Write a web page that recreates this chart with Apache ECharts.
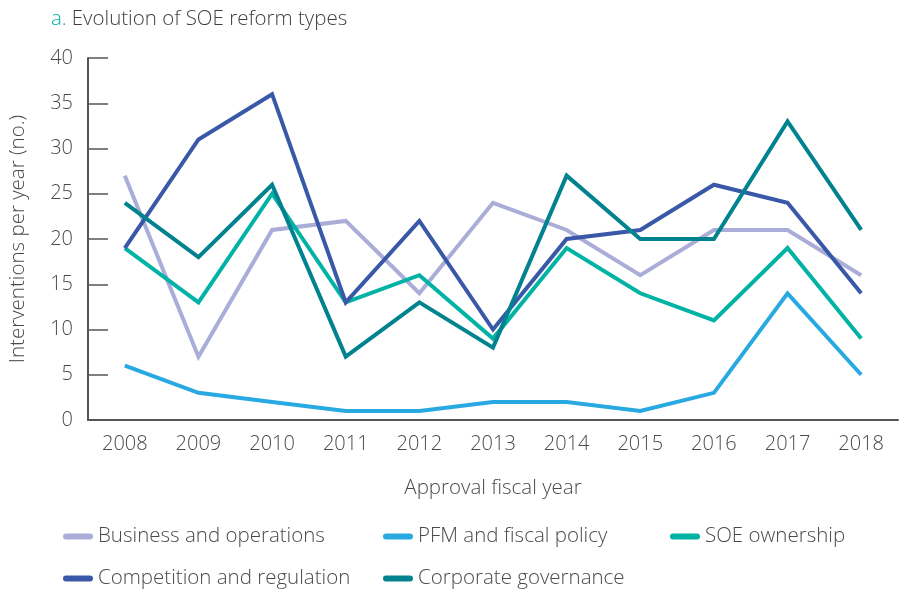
<!DOCTYPE html>
<html lang="en">
<head>
    <meta charset="UTF-8">
    <title>Evolution of SOE reform types</title>
    <script src="https://cdn.jsdelivr.net/npm/echarts@6/dist/echarts.min.js"></script>
    <style>
        body { margin: 0; background: #fff; }
    </style>
</head>
<body>
    <div id="main" style="width:900px;height:596px;"></div>

    <script>
    // data
    var years = ['2008', '2009', '2010', '2011', '2012', '2013', '2014', '2015', '2016', '2017', '2018'];
    var businessOps = [27, 7, 21, 22, 14, 24, 21, 16, 21, 21, 16];
    var pfmFiscal = [6, 3, 2, 1, 1, 2, 2, 1, 3, 14, 5];
    var soeOwnership = [19, 13, 25, 13, 16, 9, 19, 14, 11, 19, 9];
    var competitionReg = [19, 31, 36, 13, 22, 10, 20, 21, 26, 24, 14];
    var corpGovernance = [24, 18, 26, 7, 13, 8, 27, 20, 20, 33, 21];

    var seriesNames = ['Business and operations', 'PFM and fiscal policy', 'SOE ownership',
        'Competition and regulation', 'Corporate governance'];
    var seriesColors = ['#a9add8', '#29a9e1', '#00b3a4', '#3a58a8', '#00838f'];
    var seriesData = [businessOps, pfmFiscal, soeOwnership, competitionReg, corpGovernance];

    var font = '"Open Sans", Lato, sans-serif';
    var textGray = '#4a4a4a';

    function lineSeries(i) {
        return {
            name: seriesNames[i],
            type: 'line',
            data: seriesData[i],
            showSymbol: false,
            symbol: 'none',
            lineStyle: { width: 4, color: seriesColors[i], join: 'miter' },
            itemStyle: { color: seriesColors[i] },
            emphasis: { disabled: true }
        };
    }

    function legendCol(left, names) {
        return {
            orient: 'vertical',
            left: left,
            top: 521,
            data: names,
            icon: 'path://M3,0 L27,0 A3,3 0 0 1 27,6 L3,6 A3,3 0 0 1 3,0 Z',
            itemWidth: 30,
            itemHeight: 6,
            itemGap: 21,
            textStyle: { fontFamily: font, fontWeight: 300, fontSize: 20.5, color: textGray, lineHeight: 20, padding: [0, 0, 0, 0] }
        };
    }

    var myChart = echarts.init(document.getElementById('main'));
    myChart.setOption({
        animation: false,
        title: {
            text: '{a|a.} {b|Evolution of SOE reform types}',
            left: 46,
            top: 4,
            textStyle: {
                rich: {
                    a: { fontFamily: font, fontWeight: 300, fontSize: 20.5, color: '#00b3a4' },
                    b: { fontFamily: font, fontWeight: 300, fontSize: 20.5, color: '#3f3f3f' }
                }
            }
        },
        legend: [
            legendCol(58, [seriesNames[0], seriesNames[3]]),
            legendCol(378, [seriesNames[1], seriesNames[4]]),
            legendCol(665, [seriesNames[2]])
        ],
        grid: { left: 80, right: 2, top: 58, bottom: 176, containLabel: false },
        xAxis: {
            type: 'category',
            data: years,
            boundaryGap: true,
            name: 'Approval fiscal year',
            nameLocation: 'middle',
            nameGap: 58,
            nameTextStyle: { fontFamily: font, fontWeight: 300, fontSize: 20.5, color: textGray },
            axisLine: { lineStyle: { color: '#555', width: 2 } },
            axisTick: { inside: true, length: 9, lineStyle: { color: '#555', width: 1.5 } },
            axisLabel: { fontFamily: font, fontWeight: 300, fontSize: 20, color: textGray, margin: 14 },
            splitLine: { show: false }
        },
        yAxis: {
            type: 'value',
            min: 0,
            max: 40,
            interval: 5,
            name: 'Interventions per year (no.)',
            nameLocation: 'middle',
            nameGap: 59,
            nameTextStyle: { fontFamily: font, fontWeight: 300, fontSize: 20.5, color: textGray },
            axisLine: { show: true, lineStyle: { color: '#555', width: 2 } },
            axisTick: { show: true, inside: true, length: 20, lineStyle: { color: '#555', width: 1.5 } },
            axisLabel: { fontFamily: font, fontWeight: 300, fontSize: 20, color: textGray, margin: 15, padding: [10, 0, 0, 0] },
            splitLine: { show: false }
        },
        series: [0, 1, 2, 3, 4].map(lineSeries)
    });

    window.onresize = function () {
        myChart.resize();
    };
    </script>
</body>
</html>
